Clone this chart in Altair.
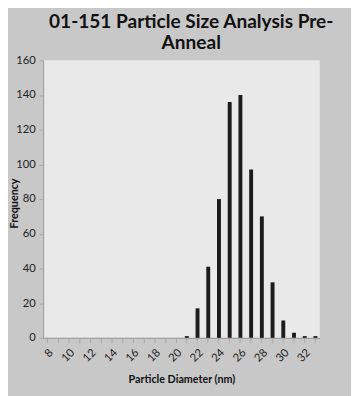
import altair as alt
import pandas as pd

diameters = list(range(8, 34))
frequency = [0]*13 + [1, 17, 41, 80, 136, 140, 97, 70, 32, 10, 3, 1, 1]

df = pd.DataFrame({"d": diameters, "f": frequency})

bars = alt.Chart(df).mark_bar(color="#1c1c1c", size=4).encode(
    x=alt.X("d:O", title="Particle Diameter (nm)",
            scale=alt.Scale(paddingInner=0.6, paddingOuter=0.2),
            axis=alt.Axis(labelAngle=-45,
                          labelExpr="datum.value % 2 == 0 ? datum.label : ''",
                          labelFont="Lato", labelFontSize=11.5, labelColor="#222",
                          titleFont="Lato", titleFontSize=11, titleFontWeight="bold",
                          titleColor="#111", titlePadding=10,
                          domainColor="#999", tickColor="#aaa", tickSize=5,
                          labelPadding=4)),
    y=alt.Y("f:Q", title="Frequency",
            scale=alt.Scale(domain=[0, 160]),
            axis=alt.Axis(values=list(range(0, 161, 20)), grid=False,
                          labelFont="Lato", labelFontSize=11.5, labelColor="#222",
                          titleFont="Lato", titleFontSize=11, titleFontWeight="bold",
                          titleColor="#111", titleX=-24, titleY=146,
                          titleBaseline="bottom",
                          labelPadding=4,
                          domainColor="#999", tickColor="#aaa", tickSize=4)),
)

chart = bars.properties(
    width=283, height=284,
    title=alt.TitleParams(["01-151 Particle Size Analysis Pre-", "Anneal"],
                          font="Lato", fontSize=19.5, fontWeight="bold",
                          color="#111", anchor="middle", dx=10, offset=1,
                          lineHeight=22),
    autosize=alt.AutoSizeParams(type="none"),
    padding={"left": 36, "top": 49, "right": 32, "bottom": 55},
    background="#c8c8c8",
).configure_view(fill="#e9e9e9", stroke=None)

chart.save("out.html", embed_options={"renderer": "svg", "actions": False})
